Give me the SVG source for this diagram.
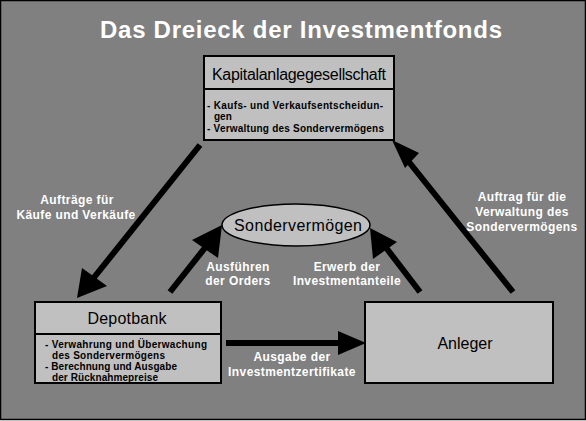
<svg xmlns="http://www.w3.org/2000/svg" width="586" height="421" viewBox="0 0 586 421">
<style>
.box{fill:#c0c0c0;stroke:#000;stroke-width:2}
.lbl{font-family:"Liberation Sans",Arial,sans-serif;font-weight:bold;font-size:12px;letter-spacing:0.4px;fill:#fff;text-anchor:middle}
.nt{font-family:"Liberation Sans",Arial,sans-serif;font-size:16px;fill:#000;text-anchor:middle}
.sm{font-family:"Liberation Sans",Arial,sans-serif;font-size:10px;font-weight:bold;fill:#000}
.ln{stroke:#000;stroke-width:6;fill:none}
.hd{fill:#000}
</style>
<rect x="0.5" y="0.5" width="585" height="419" fill="#808080" stroke="#000" stroke-width="1.5"/>
<text x="301" y="38" font-family="'Liberation Sans',Arial,sans-serif" font-weight="bold" font-size="24" fill="#fff" text-anchor="middle" textLength="402">Das Dreieck der Investmentfonds</text>

<g id="connectors">
  <line class="ln" x1="200" y1="145" x2="92" y2="280"/>
  <polygon class="hd" points="77,298 82,268 107,286"/>
  <line class="ln" x1="170" y1="292" x2="208" y2="244"/>
  <polygon class="hd" points="222,225 218,258 192,240"/>
  <line class="ln" x1="420" y1="292" x2="384" y2="245"/>
  <polygon class="hd" points="370,228 397,242 373,259"/>
  <line class="ln" x1="513" y1="292" x2="405" y2="157"/>
  <polygon class="hd" points="392,140 419,153 405,168"/>
  <line class="ln" x1="226" y1="343" x2="342" y2="343"/>
  <polygon class="hd" points="366,343 338,331 338,355"/>
</g>

<g id="kag">
  <rect class="box" x="204" y="56" width="190" height="84"/>
  <line x1="204" y1="89" x2="394" y2="89" stroke="#000" stroke-width="2"/>
  <text class="nt" x="299" y="80" font-size="14" textLength="174">Kapitalanlagegesellschaft</text>
  <text class="sm" x="207" y="109" textLength="176">- Kaufs- und Verkaufsentscheidun-</text>
  <text class="sm" x="214" y="120">gen</text>
  <text class="sm" x="207" y="132" textLength="177">- Verwaltung des Sondervermögens</text>
</g>

<g id="depotbank">
  <rect class="box" x="35" y="302" width="186" height="81"/>
  <line x1="35" y1="334" x2="221" y2="334" stroke="#000" stroke-width="2"/>
  <text class="nt" x="127" y="324" textLength="79">Depotbank</text>
  <text class="sm" x="45" y="348" textLength="162">- Verwahrung und Überwachung</text>
  <text class="sm" x="52" y="359" textLength="113">des Sondervermögens</text>
  <text class="sm" x="45" y="370" textLength="132">- Berechnung und Ausgabe</text>
  <text class="sm" x="52" y="381" textLength="106">der Rücknahmepreise</text>
</g>

<g id="anleger">
  <rect class="box" x="365" y="302" width="188" height="81"/>
  <text class="nt" x="465" y="349">Anleger</text>
</g>

<g id="sondervermoegen">
  <ellipse cx="296" cy="225" rx="74" ry="21" fill="#c0c0c0" stroke="#000" stroke-width="1.5"/>
  <text class="nt" x="298" y="231" textLength="128">Sondervermögen</text>
</g>

<g id="labels">
  <text class="lbl" x="77" y="204">Aufträge für</text>
  <text class="lbl" x="76" y="219">Käufe und Verkäufe</text>
  <text class="lbl" x="238" y="271">Ausführen</text>
  <text class="lbl" x="238" y="285">der Orders</text>
  <text class="lbl" x="347" y="271">Erwerb der</text>
  <text class="lbl" x="347" y="285">Investmentanteile</text>
  <text class="lbl" x="522" y="201">Auftrag für die</text>
  <text class="lbl" x="522" y="216">Verwaltung des</text>
  <text class="lbl" x="522" y="231">Sondervermögens</text>
  <text class="lbl" x="292" y="361">Ausgabe der</text>
  <text class="lbl" x="292" y="376">Investmentzertifikate</text>
</g>
</svg>
